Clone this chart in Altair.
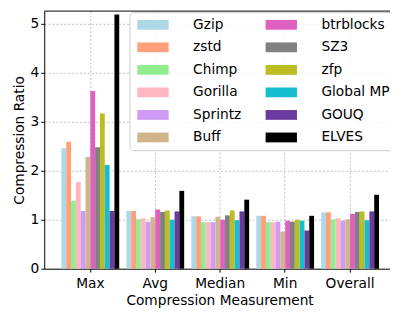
import altair as alt
import pandas as pd

categories = ["Max", "Avg", "Median", "Min", "Overall"]
series = ["Gzip", "zstd", "Chimp", "Gorilla", "Sprintz", "Buff",
          "btrblocks", "SZ3", "zfp", "Global MP", "GOUQ", "ELVES"]
colors = ["#add8e6", "#ffa07a", "#90ee90", "#ffb6c1", "#cf9bf5", "#d2b48c",
          "#e060c0", "#808080", "#bcbd22", "#17becf", "#6a3a9e", "#000000"]

gzip = [2.46, 1.18, 1.07, 1.08, 1.15]
zstd = [2.59, 1.18, 1.07, 1.08, 1.15]
chimp = [1.39, 1.01, 0.95, 0.95, 1.01]
gorilla = [1.77, 1.03, 0.95, 0.95, 1.03]
sprintz = [1.18, 0.96, 0.95, 0.96, 0.98]
buff = [2.28, 1.05, 1.06, 0.76, 1.01]
btrblocks = [3.63, 1.21, 1.00, 0.98, 1.12]
sz3 = [2.48, 1.16, 1.09, 0.96, 1.16]
zfp = [3.17, 1.19, 1.19, 1.00, 1.17]
global_mp = [2.12, 1.00, 0.99, 0.98, 0.99]
gouq = [1.18, 1.17, 1.17, 0.78, 1.17]
elves = [5.19, 1.59, 1.41, 1.08, 1.51]

all_vals = [gzip, zstd, chimp, gorilla, sprintz, buff, btrblocks, sz3, zfp,
            global_mp, gouq, elves]

rows = []
for s, vals in zip(series, all_vals):
    for c, v in zip(categories, vals):
        rows.append({"category": c, "series": s, "value": v})
df = pd.DataFrame(rows)

W, H = 353, 263
font = "DejaVu Sans"

bars = alt.Chart(df).mark_bar(strokeWidth=0).encode(
    x=alt.X("category:N", sort=categories,
            scale=alt.Scale(paddingInner=0.11, paddingOuter=0.217, align=0.61),
            axis=alt.Axis(title="Compression Measurement", labelAngle=0,
                          bandPosition=0.5, grid=True, labelPadding=5,
                          titlePadding=3, titleX=179)),
    xOffset=alt.XOffset("series:N", sort=series,
                        scale=alt.Scale(paddingInner=0, paddingOuter=0)),
    y=alt.Y("value:Q", scale=alt.Scale(domain=[0, 5.26], nice=False),
            axis=alt.Axis(title="Compression Ratio", values=[0, 1, 2, 3, 4, 5],
                          grid=True, labelPadding=2, titlePadding=4)),
    color=alt.Color("series:N",
                    scale=alt.Scale(domain=series, range=colors),
                    legend=alt.Legend(
                        title=None, orient="none", legendX=87, legendY=1,
                        columns=2, symbolType="M-3.2,-1H3.2V1H-3.2Z",
                        symbolSize=100, symbolOffset=11, labelOffset=34,
                        rowPadding=9, columnPadding=22, padding=6,
                        strokeColor="#cccccc", cornerRadius=4,
                        fillColor="rgba(255,255,255,0.85)",
                        labelFont=font, labelFontSize=14, labelColor="black",
                        symbolStrokeWidth=0, symbolOpacity=1)),
)

top = alt.Chart(pd.DataFrame({"a": [0]})).mark_rule(color="black", strokeWidth=1).encode(
    x=alt.value(0), x2=alt.value(W), y=alt.value(0))

chart = alt.layer(bars, top).properties(
    width=W, height=H,
    autosize=alt.AutoSizeParams(type="none"),
    padding={"left": 37, "top": 0, "right": 0, "bottom": 40},
).configure_view(stroke=None).configure_axis(
    domainColor="black", domainWidth=1, tickColor="black", tickSize=3.5,
    labelFont=font, labelFontSize=14, labelColor="black",
    titleFont=font, titleFontSize=14, titleFontWeight="normal", titleColor="black",
    gridColor="#b0b0b0", gridDash=[2, 2], gridWidth=0.8,
)

chart.save("out.html", embed_options={"renderer": "svg", "actions": False})
